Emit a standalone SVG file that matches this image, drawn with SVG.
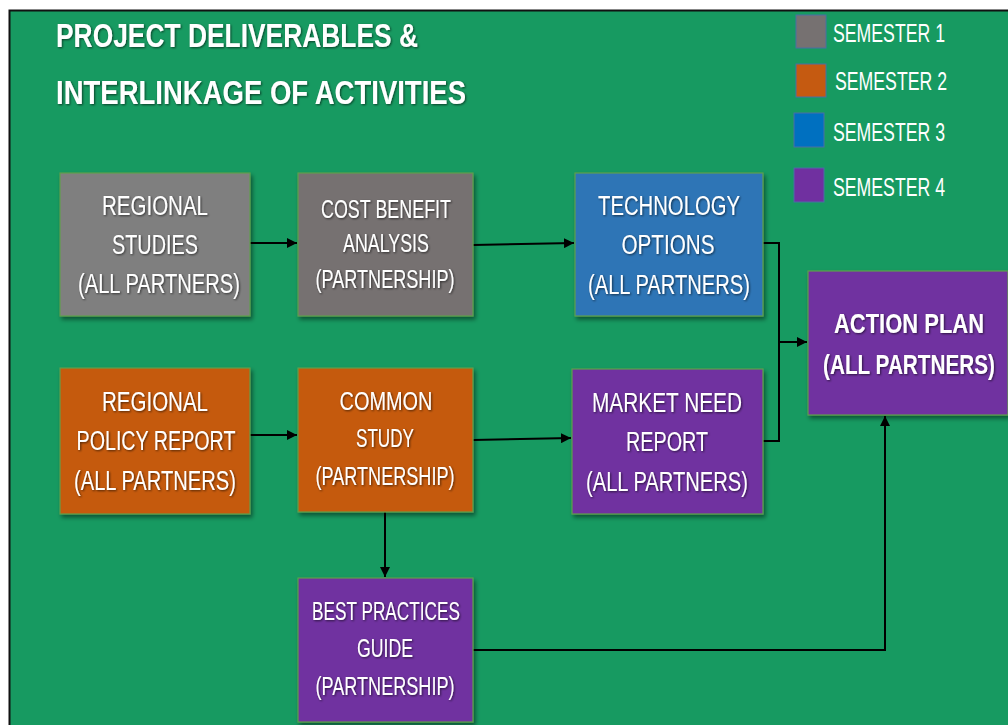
<svg xmlns="http://www.w3.org/2000/svg" width="1008" height="725" viewBox="0 0 1008 725">
<defs>
<style>
.t{font-family:"Liberation Sans",Arial,sans-serif;fill:#fff;text-anchor:middle;}
.n{font-size:27px;}
.s{font-size:25px;}
.b{font-size:28px;font-weight:bold;}
.title{font-family:"Liberation Sans",Arial,sans-serif;fill:#fff;font-size:34px;font-weight:bold;}
.leg{font-family:"Liberation Sans",Arial,sans-serif;fill:#fff;font-size:25px;}
.box{stroke:#5F9F4C;stroke-width:1.2;}
.c{fill:none;stroke:#000;stroke-width:2;}
</style>
<filter id="sh" x="-10%" y="-10%" width="125%" height="125%">
<feDropShadow dx="2" dy="3" stdDeviation="2" flood-color="#000" flood-opacity="0.45"/>
</filter>
<filter id="ts" x="-5%" y="-20%" width="110%" height="150%">
<feDropShadow dx="1" dy="1" stdDeviation="0.8" flood-color="#000" flood-opacity="0.6"/>
</filter>
<marker id="ar" viewBox="0 0 10 10" refX="10" refY="5" markerWidth="5" markerHeight="5" orient="auto" markerUnits="strokeWidth">
<path d="M0,0 L10,5 L0,10 z" fill="#000"/>
</marker>
</defs>
<rect x="0" y="0" width="1008" height="725" fill="#fff"/>
<rect x="9.5" y="10.5" width="1010" height="730" fill="#179A61" stroke="#111" stroke-width="2"/>

<g id="title" filter="url(#ts)">
<text class="title" x="56" y="47" textLength="362" lengthAdjust="spacingAndGlyphs">PROJECT DELIVERABLES &amp;</text>
<text class="title" x="56" y="104" textLength="410" lengthAdjust="spacingAndGlyphs">INTERLINKAGE OF ACTIVITIES</text>
</g>

<g id="legend">
<rect x="796" y="15" width="30" height="33" fill="#767171" stroke="#4A6FA5" stroke-width="1"/>
<text class="leg" x="833" y="42" textLength="112" lengthAdjust="spacingAndGlyphs">SEMESTER 1</text>
<rect x="796" y="64" width="30" height="33" fill="#C55A11" stroke="#4A6FA5" stroke-width="1"/>
<text class="leg" x="835" y="90" textLength="112" lengthAdjust="spacingAndGlyphs">SEMESTER 2</text>
<rect x="794" y="113" width="30" height="34" fill="#0070C0" stroke="#4A6FA5" stroke-width="1"/>
<text class="leg" x="833" y="141" textLength="112" lengthAdjust="spacingAndGlyphs">SEMESTER 3</text>
<rect x="794" y="168" width="30" height="34" fill="#7030A0" stroke="#4A6FA5" stroke-width="1"/>
<text class="leg" x="833" y="196" textLength="112" lengthAdjust="spacingAndGlyphs">SEMESTER 4</text>
</g>

<g id="connectors">
<line class="c" x1="250" y1="243" x2="297" y2="243" marker-end="url(#ar)"/>
<line class="c" x1="473" y1="245" x2="574" y2="243" marker-end="url(#ar)"/>
<line class="c" x1="250" y1="435" x2="297" y2="435" marker-end="url(#ar)"/>
<line class="c" x1="473" y1="440" x2="571" y2="438" marker-end="url(#ar)"/>
<line class="c" x1="385" y1="512" x2="385" y2="577" marker-end="url(#ar)"/>
<polyline class="c" points="763,243 779,243 779,441 763,441"/>
<line class="c" x1="779" y1="342" x2="807" y2="342" marker-end="url(#ar)"/>
<polyline class="c" points="473,650 885,650 885,416" marker-end="url(#ar)"/>
</g>

<g id="regional-studies">
<rect class="box" x="60" y="173" width="190" height="143" fill="#7F7F7F" filter="url(#sh)"/>
<g filter="url(#ts)">
<text class="t n" x="155" y="215" textLength="106" lengthAdjust="spacingAndGlyphs">REGIONAL</text>
<text class="t n" x="155" y="254" textLength="86" lengthAdjust="spacingAndGlyphs">STUDIES</text>
<text class="t n" x="159" y="293" textLength="162" lengthAdjust="spacingAndGlyphs">(ALL PARTNERS)</text>
</g>
</g>

<g id="cost-benefit">
<rect class="box" x="298" y="173" width="175" height="143" fill="#767171" filter="url(#sh)" stroke="#7DBF4F"/>
<g filter="url(#ts)">
<text class="t s" x="386" y="218" textLength="130" lengthAdjust="spacingAndGlyphs">COST BENEFIT</text>
<text class="t s" x="386" y="252" textLength="86" lengthAdjust="spacingAndGlyphs">ANALYSIS</text>
<text class="t s" x="385" y="288" textLength="139" lengthAdjust="spacingAndGlyphs">(PARTNERSHIP)</text>
</g>
</g>

<g id="technology-options">
<rect class="box" x="575" y="173" width="188" height="143" fill="#2E75B6" filter="url(#sh)"/>
<g filter="url(#ts)">
<text class="t n" x="669" y="215" textLength="142" lengthAdjust="spacingAndGlyphs">TECHNOLOGY</text>
<text class="t n" x="668" y="254" textLength="93" lengthAdjust="spacingAndGlyphs">OPTIONS</text>
<text class="t n" x="669" y="294" textLength="162" lengthAdjust="spacingAndGlyphs">(ALL PARTNERS)</text>
</g>
</g>

<g id="action-plan">
<rect class="box" x="808" y="271" width="200" height="144" fill="#7030A0" filter="url(#sh)"/>
<g filter="url(#ts)">
<text class="t b" x="909" y="333" textLength="150" lengthAdjust="spacingAndGlyphs">ACTION PLAN</text>
<text class="t b" x="909" y="374" textLength="172" lengthAdjust="spacingAndGlyphs">(ALL PARTNERS)</text>
</g>
</g>

<g id="regional-policy">
<rect class="box" x="60" y="368" width="190" height="146" fill="#C55A11" filter="url(#sh)"/>
<g filter="url(#ts)">
<text class="t n" x="155" y="411" textLength="106" lengthAdjust="spacingAndGlyphs">REGIONAL</text>
<text class="t n" x="156" y="450" textLength="159" lengthAdjust="spacingAndGlyphs">POLICY REPORT</text>
<text class="t n" x="155" y="490" textLength="162" lengthAdjust="spacingAndGlyphs">(ALL PARTNERS)</text>
</g>
</g>

<g id="common-study">
<rect class="box" x="298" y="368" width="175" height="144" fill="#C55A11" filter="url(#sh)"/>
<g filter="url(#ts)">
<text class="t s" x="386" y="410" textLength="93" lengthAdjust="spacingAndGlyphs">COMMON</text>
<text class="t s" x="385" y="447" textLength="58" lengthAdjust="spacingAndGlyphs">STUDY</text>
<text class="t s" x="385" y="485" textLength="139" lengthAdjust="spacingAndGlyphs">(PARTNERSHIP)</text>
</g>
</g>

<g id="market-need">
<rect class="box" x="572" y="369" width="191" height="145" fill="#7030A0" filter="url(#sh)"/>
<g filter="url(#ts)">
<text class="t n" x="667" y="412" textLength="150" lengthAdjust="spacingAndGlyphs">MARKET NEED</text>
<text class="t n" x="667" y="451" textLength="82" lengthAdjust="spacingAndGlyphs">REPORT</text>
<text class="t n" x="667" y="491" textLength="162" lengthAdjust="spacingAndGlyphs">(ALL PARTNERS)</text>
</g>
</g>

<g id="best-practices">
<rect class="box" x="298" y="578" width="175" height="144" fill="#7030A0" filter="url(#sh)"/>
<g filter="url(#ts)">
<text class="t s" x="386" y="620" textLength="148" lengthAdjust="spacingAndGlyphs">BEST PRACTICES</text>
<text class="t s" x="385" y="657" textLength="56" lengthAdjust="spacingAndGlyphs">GUIDE</text>
<text class="t s" x="385" y="695" textLength="139" lengthAdjust="spacingAndGlyphs">(PARTNERSHIP)</text>
</g>
</g>
</svg>
